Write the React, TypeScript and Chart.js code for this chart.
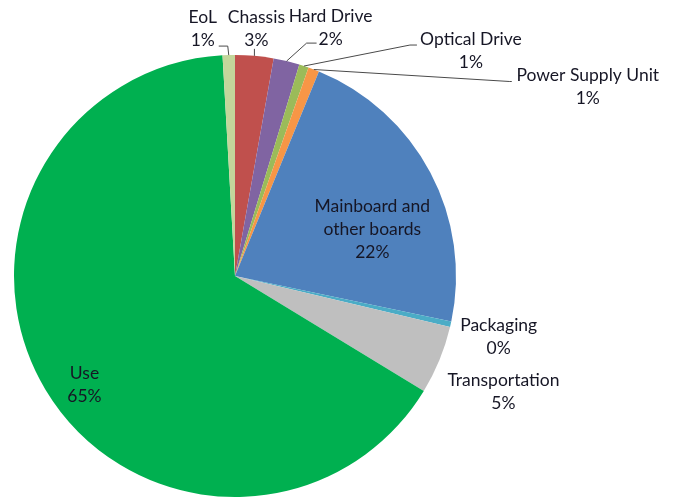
import React, { useEffect, useRef } from "react";
import { Chart, registerables } from "chart.js";

Chart.register(...registerables);

const categories = [
  "Chassis",
  "Hard Drive",
  "Optical Drive",
  "Power Supply Unit",
  "Mainboard and\nother boards",
  "Packaging",
  "Transportation",
  "Use",
  "EoL",
];
const shares = [2.8, 1.9, 0.7, 0.8, 22.1, 0.4, 5.0, 65.4, 0.9];
const colors = [
  "#C0504D",
  "#8064A2",
  "#9BBB59",
  "#F79646",
  "#4F81BD",
  "#4BACC6",
  "#BFBFBF",
  "#00B050",
  "#C3D69B",
];

// label block centre offset from the slice's outer mid point
const labelOffsets: [number, number][] = [
  [2, -27],
  [44, -33],
  [167, -15],
  [274, 17],
  [-58, 57],
  [48, 12.5],
  [64, 32],
  [39, -5],
  [-26, -26],
];
// leader line points relative to the slice's outer mid point
const leaders: [number, number][][] = [
  [[0, -7]],
  [[20, -18], [30, -18]],
  [[106, -21], [113, -21]],
  [[196, 12], [198, 12]],
  [],
  [],
  [],
  [],
  [[-1, -9], [-10, -9]],
];

const FONT = "17.5px Lato, 'Open Sans', sans-serif";
const LINE_H = 23;

const labelPlugin = {
  id: "pieLabels",
  afterDatasetsDraw(chart: any) {
    const ctx = chart.ctx;
    const meta = chart.getDatasetMeta(0);
    ctx.save();
    meta.data.forEach((arc: any, i: number) => {
      const p = arc.getProps(["x", "y", "startAngle", "endAngle", "outerRadius"], true);
      const mid = (p.startAngle + p.endAngle) / 2;
      const ex = p.x + Math.cos(mid) * p.outerRadius;
      const ey = p.y + Math.sin(mid) * p.outerRadius;
      const pts = leaders[i];
      if (pts.length) {
        ctx.beginPath();
        ctx.strokeStyle = "#4a4a4a";
        ctx.lineWidth = 1;
        ctx.moveTo(ex, ey);
        pts.forEach(([dx, dy]) => ctx.lineTo(ex + dx, ey + dy));
        ctx.stroke();
      }
      const lines = categories[i].split("\n").concat([Math.round(shares[i]) + "%"]);
      const cx = ex + labelOffsets[i][0];
      const cy = ey + labelOffsets[i][1];
      ctx.font = FONT;
      ctx.fillStyle = "#161625";
      ctx.textAlign = "center";
      ctx.textBaseline = "middle";
      const top = cy - ((lines.length - 1) * LINE_H) / 2;
      lines.forEach((t, k) => ctx.fillText(t, cx, top + k * LINE_H));
    });
    ctx.restore();
  },
};

export default function App() {
  const ref = useRef<HTMLCanvasElement>(null);
  useEffect(() => {
    if (!ref.current) return;
    const chart = new Chart(ref.current, {
      type: "pie",
      data: {
        labels: categories,
        datasets: [
          {
            data: shares,
            backgroundColor: colors,
            borderWidth: 0,
          },
        ],
      },
      options: {
        animation: false,
        responsive: true,
        maintainAspectRatio: false,
        layout: { padding: { left: 14, top: 55, right: 220, bottom: 1 } },
        plugins: {
          legend: { display: false },
          tooltip: { enabled: false },
        },
      },
      plugins: [labelPlugin],
    });
    return () => chart.destroy();
  }, []);
  return (
    <div style={{ position: "absolute", left: 0, top: 0, width: 676, height: 498, background: "#fff" }}>
      <canvas ref={ref} />
    </div>
  );
}
